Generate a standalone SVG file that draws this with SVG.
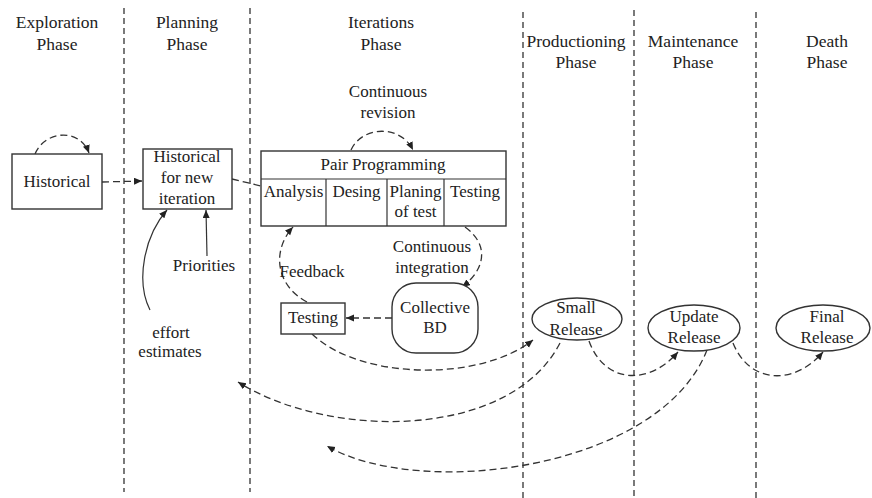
<svg xmlns="http://www.w3.org/2000/svg" width="872" height="498" viewBox="0 0 872 498" font-family="'Times New Roman', 'Liberation Serif', 'DejaVu Serif', serif">
<style>
text{font-family:'Times New Roman','Liberation Serif','DejaVu Serif',serif;font-size:17px;fill:#222;text-anchor:middle}
.hdr{font-size:17.5px}
.box{fill:#fff;stroke:#333;stroke-width:1.4}
.sep{stroke:#333;stroke-width:1.3;stroke-dasharray:6 4;fill:none}
.dc{stroke:#333;stroke-width:1.3;stroke-dasharray:7 4;fill:none}
.sc{stroke:#333;stroke-width:1.2;fill:none}
.arr{marker-end:url(#ah)}
</style>
<defs>
<marker id="ah" markerUnits="userSpaceOnUse" markerWidth="9" markerHeight="8" refX="8" refY="3.5" orient="auto">
<path d="M0,0 L8,3.5 L0,7 z" fill="#222"/>
</marker>
</defs>
<rect width="872" height="498" fill="#fff"/>
<g id="separators">
<line class="sep" x1="124" y1="8" x2="124" y2="492"/>
<line class="sep" x1="250" y1="8" x2="250" y2="492"/>
<line class="sep" x1="523" y1="12" x2="523" y2="498"/>
<line class="sep" x1="634" y1="10" x2="634" y2="498"/>
<line class="sep" x1="756" y1="12" x2="756" y2="498"/>
</g>
<g id="headers">
<text class="hdr" x="57" y="28">Exploration</text>
<text class="hdr" x="57" y="50">Phase</text>
<text class="hdr" x="187" y="28">Planning</text>
<text class="hdr" x="187" y="50">Phase</text>
<text class="hdr" x="381" y="28">Iterations</text>
<text class="hdr" x="381" y="50">Phase</text>
<text class="hdr" x="576" y="47">Productioning</text>
<text class="hdr" x="576" y="68">Phase</text>
<text class="hdr" x="693" y="47">Maintenance</text>
<text class="hdr" x="693" y="68">Phase</text>
<text class="hdr" x="827" y="47">Death</text>
<text class="hdr" x="827" y="68">Phase</text>
</g>
<g id="connectors">
<path class="dc arr" d="M35,154 C45,130 80,128 89,153"/>
<path class="dc arr" d="M102,182 L142,181"/>
<path class="dc" d="M232,179 L261,186"/>
<path class="dc arr" d="M351,150 C362,126 400,124 413,150"/>
<path class="dc arr" d="M465,227 C490,245 485,270 462,287"/>
<path class="dc arr" d="M307,302 C275,285 272,250 293,227"/>
<path class="dc arr" d="M392,318 L346,318"/>
<path class="dc arr" d="M312,334 C360,380 480,382 533,340"/>
<path class="dc arr" d="M589,341 C605,385 650,385 678,352"/>
<path class="dc arr" d="M733,343 C750,385 795,385 823,352"/>
<path class="dc arr" d="M560,343 C510,440 330,440 238,382"/>
<path class="dc arr" d="M707,350 C660,470 420,500 327,446"/>
<path class="sc arr" d="M150,310 C135,280 145,235 167,210"/>
<path class="sc arr" d="M207,256 L206,210"/>
</g>
<g id="labels">
<text x="388" y="97">Continuous</text>
<text x="388" y="118">revision</text>
<text x="432" y="252">Continuous</text>
<text x="432" y="273">integration</text>
<text x="312" y="277">Feedback</text>
<text x="204" y="271">Priorities</text>
<text x="171" y="338">effort</text>
<text x="170" y="357">estimates</text>
</g>
<g id="historical">
<rect class="box" x="12" y="154" width="90" height="55"/>
<text x="57" y="187">Historical</text>
</g>
<g id="historical-new">
<rect class="box" x="143" y="149" width="89" height="60"/>
<text x="187" y="162">Historical</text>
<text x="187" y="183">for new</text>
<text x="187" y="204">iteration</text>
</g>
<g id="pair-programming">
<rect class="box" x="261" y="151" width="245" height="75"/>
<line class="sc" x1="261" y1="179" x2="506" y2="179"/>
<line class="sc" x1="326" y1="179" x2="326" y2="226"/>
<line class="sc" x1="387" y1="179" x2="387" y2="226"/>
<line class="sc" x1="444" y1="179" x2="444" y2="226"/>
<text x="383" y="170">Pair Programming</text>
<text x="293.5" y="197">Analysis</text>
<text x="356.5" y="197">Desing</text>
<text x="415.5" y="197">Planing</text>
<text x="415.5" y="217">of test</text>
<text x="475" y="197">Testing</text>
</g>
<g id="testing">
<rect class="box" x="281" y="303" width="64" height="31"/>
<text x="313" y="323">Testing</text>
</g>
<g id="collective-bd">
<rect class="box" x="392" y="283" width="86" height="70" rx="24" ry="24"/>
<text x="435" y="313">Collective</text>
<text x="435" y="333">BD</text>
</g>
<g id="small-release">
<ellipse class="box" cx="577" cy="319" rx="45" ry="21"/>
<text x="576" y="313">Small</text>
<text x="576" y="335">Release</text>
</g>
<g id="update-release">
<ellipse class="box" cx="694" cy="328" rx="46" ry="23"/>
<text x="694" y="322">Update</text>
<text x="694" y="343">Release</text>
</g>
<g id="final-release">
<ellipse class="box" cx="823" cy="328" rx="47" ry="23"/>
<text x="827" y="322">Final</text>
<text x="827" y="343">Release</text>
</g>
</svg>
